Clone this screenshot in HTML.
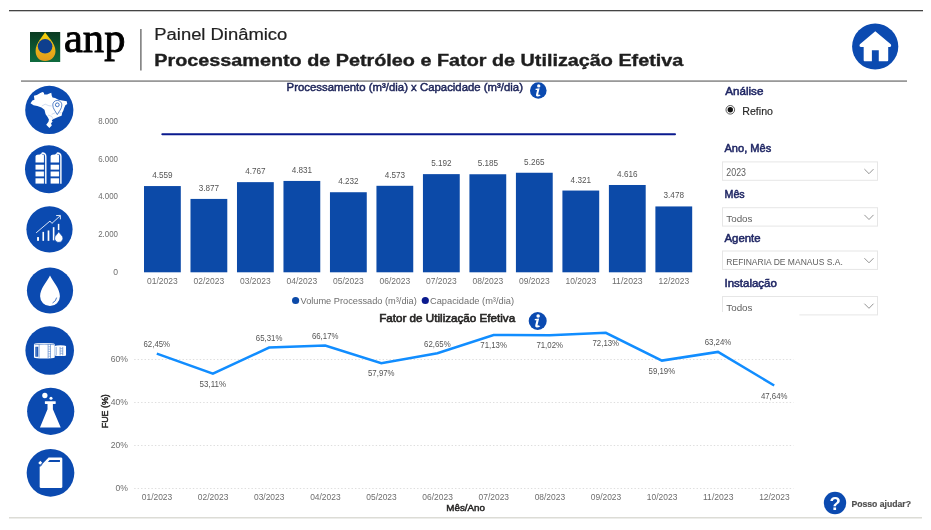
<!DOCTYPE html>
<html><head><meta charset="utf-8">
<style>
html,body{margin:0;padding:0;background:#fff;width:931px;height:530px;overflow:hidden}
svg{display:block;will-change:transform}
text{font-family:"Liberation Sans",sans-serif}
</style></head>
<body>
<svg width="931" height="530" viewBox="0 0 931 530">
<defs>
<linearGradient id="gGreen" x1="0" y1="0" x2="0" y2="1"><stop offset="0" stop-color="#0b3b22"/><stop offset="1" stop-color="#0f6b3e"/></linearGradient>
<linearGradient id="gDrop" x1="0" y1="0" x2="0" y2="1"><stop offset="0" stop-color="#f4d20a"/><stop offset="1" stop-color="#e39a1e"/></linearGradient>
</defs>

<rect x="9" y="10" width="914" height="1.3" fill="#444"/>
<rect x="21" y="80.3" width="886" height="1.6" fill="#8e8e8e"/>
<rect x="9" y="517" width="913" height="1.5" fill="#dcdcd6"/>
<rect x="30" y="32" width="30.2" height="30" fill="url(#gGreen)"/>
<path d="M45.1 32.3 C47 36 55.5 43 55.5 51 C55.5 57 51 61 45.1 61 C39.2 61 35.6 57 35.6 51 C35.6 43 43.2 36 45.1 32.3Z" fill="url(#gDrop)"/>
<circle cx="45.1" cy="46.3" r="7.3" fill="#0e3f8e"/>
<text x="64" y="52.3" font-size="42.5" textLength="61.4" lengthAdjust="spacingAndGlyphs" fill="#000" stroke="#000" stroke-width="0.9" style="font-family:'Liberation Serif',serif">anp</text>
<rect x="140.3" y="29" width="1.2" height="41.5" fill="#555"/>
<text x="154.3" y="39.8" font-size="16" textLength="133" lengthAdjust="spacingAndGlyphs" fill="#222" stroke="#222" stroke-width="0.2">Painel Dinâmico</text>
<text x="154.3" y="65.5" font-size="15.8" font-weight="bold" textLength="529" lengthAdjust="spacingAndGlyphs" fill="#1e1e1e" stroke="#1e1e1e" stroke-width="0.35">Processamento de Petróleo e Fator de Utilização Efetiva</text>

<circle cx="875.2" cy="46.5" r="23.1" fill="#0b4ab0"/>
<g transform="translate(850,22) scale(0.09434)"><path fill="#fff" d="M268 98 L432 236 Q445 262 418 264 L405 264 L405 405 Q405 415 395 415 L305 415 L305 300 L232 300 L232 415 L155 415 Q145 415 145 405 L145 264 L118 264 Q92 262 105 236 Z"/></g>
<g fill="#0b4ab0">
<circle cx="49.3" cy="109.9" r="24.1"/>
<circle cx="49" cy="169.3" r="24"/>
<circle cx="49.5" cy="229.3" r="23.1"/>
<circle cx="50" cy="290.5" r="23.1"/>
<circle cx="49.7" cy="350.5" r="24.3"/>
<circle cx="50.7" cy="411.3" r="23.6"/>
<circle cx="50.5" cy="472.8" r="23.85"/>
</g>
<g transform="translate(29,90) scale(0.07547)"><path fill="#fff" d="M20 175 L45 140 L72 128 L65 75 L105 65 L150 40 L180 25 L197 35 L202 60 L240 60 L262 50 L295 35 L302 75 L312 100 L345 105 L390 130 L440 140 L500 150 L507 185 L482 202 L466 240 L456 270 L440 300 L432 340 L395 356 L355 371 L320 386 L302 400 L312 420 L292 440 L302 470 L270 502 L228 460 L258 420 L264 390 L244 356 L220 320 L205 262 L165 232 L110 212 L60 202 Z"/><path fill="none" stroke="#0b4ab0" stroke-width="4" opacity="0.6" d="M170 212 L215 188 L262 208 L300 212 M300 322 L352 300 L430 302 M252 332 L300 350 L322 386"/><path fill="#fff" stroke="#0b4ab0" stroke-width="9" d="M375 326 C355 285 315 250 315 198 A60 60 0 0 1 435 198 C435 250 395 285 375 326 Z"/><circle cx="375" cy="196" r="25" fill="none" stroke="#0b4ab0" stroke-width="10"/></g>
<g transform="translate(24,145) scale(0.09434)"><path fill="#fff" d="M122 185 L122 118 Q124 106 140 104 L170 100 Q178 84 196 84 L214 86 L214 185 Z"/><rect x="122" y="209" width="92" height="52" fill="#fff"/><rect x="122" y="281" width="92" height="52" fill="#fff"/><rect x="122" y="353" width="92" height="56" fill="#fff"/><path fill="none" stroke="#0b4ab0" stroke-width="7" d="M190 96 Q212 96 216 112 L216 412"/><path fill="none" stroke="#fff" stroke-width="15" d="M188 86 Q231 80 231 122 L231 412"/><path fill="#fff" d="M282 185 L282 118 Q284 106 300 104 L330 100 Q338 84 356 84 L374 86 L374 185 Z"/><rect x="282" y="209" width="92" height="52" fill="#fff"/><rect x="282" y="281" width="92" height="52" fill="#fff"/><rect x="282" y="353" width="92" height="56" fill="#fff"/><path fill="none" stroke="#0b4ab0" stroke-width="7" d="M350 96 Q372 96 376 112 L376 412"/><path fill="none" stroke="#fff" stroke-width="15" d="M348 86 Q391 80 391 122 L391 412"/></g>
<g transform="translate(25,205) scale(0.09434)"><g fill="#fff"><rect x="128" y="340" width="20" height="40"/><rect x="185" y="285" width="17" height="95"/><rect x="240" y="270" width="18" height="110"/><rect x="295" y="235" width="17" height="140"/><rect x="348" y="200" width="16" height="66"/></g><path fill="none" stroke="#fff" stroke-width="9" d="M118 295 L265 170 L285 195 L372 115 M330 112 L375 110 L375 152"/><path fill="#fff" stroke="#0b4ab0" stroke-width="7" d="M358 282 C343 312 314 326 314 352 A44 44 0 0 0 402 352 C402 326 373 312 358 282 Z"/></g>
<g transform="translate(25,266) scale(0.09434)"><path fill="#fff" d="M265 100 C230 170 160 240 160 320 A105 105 0 0 0 370 320 C370 240 300 170 265 100 Z"/><path fill="none" stroke="#0b4ab0" stroke-width="8" d="M335 335 Q330 372 292 392"/></g>
<g transform="translate(25,326) scale(0.09434)"><path fill="#fff" d="M95 190 Q110 180 200 180 Q300 180 315 190 L315 335 Q300 345 200 345 Q110 345 95 335 Z"/><path fill="#fff" d="M315 212 Q330 205 375 205 Q425 205 435 212 L435 312 Q425 318 375 318 Q330 318 315 312 Z"/><rect x="110" y="220" width="30" height="105" fill="#0b4ab0"/><rect x="120" y="225" width="10" height="95" fill="#fff" opacity="0.35"/><path fill="none" stroke="#0b4ab0" stroke-width="5" d="M150 195 L150 335 M245 195 L245 340 M270 195 L270 340 M100 198 Q200 188 312 198 M330 222 L330 310 M372 222 L372 312 M400 222 L400 312"/><path fill="none" stroke="#0b4ab0" stroke-width="4" d="M248 220 L268 220 M248 245 L268 245 M248 270 L268 270 M248 295 L268 295 M248 320 L268 320 M375 240 L398 240 M375 265 L398 265 M375 290 L398 290"/></g>
<g transform="translate(26,387) scale(0.09434)"><g fill="#fff"><circle cx="200" cy="90" r="28"/><circle cx="265" cy="120" r="16"/><rect x="200" y="150" width="115" height="30" rx="4"/><path d="M228 178 L285 178 L285 235 L368 430 L148 430 L228 235 Z"/></g></g>
<g transform="translate(26,448) scale(0.09434)"><path fill="#fff" d="M240 100 L370 100 Q385 100 385 115 L385 410 Q385 425 370 425 L160 425 Q145 425 145 410 L145 200 Z"/><path fill="#0b4ab0" d="M250 128 L360 128 L360 148 L232 148 Z"/><path fill="#fff" d="M130 158 L152 136 L172 156 L150 178 Z"/><path fill="none" stroke="#0b4ab0" stroke-width="6" d="M172 176 L150 198"/></g>
<text x="118" y="124.0" font-size="8.6" text-anchor="end" textLength="19.8" lengthAdjust="spacingAndGlyphs" fill="#6e6e6e">8.000</text>
<text x="118" y="161.7" font-size="8.6" text-anchor="end" textLength="19.8" lengthAdjust="spacingAndGlyphs" fill="#6e6e6e">6.000</text>
<text x="118" y="199.4" font-size="8.6" text-anchor="end" textLength="19.8" lengthAdjust="spacingAndGlyphs" fill="#6e6e6e">4.000</text>
<text x="118" y="237.1" font-size="8.6" text-anchor="end" textLength="19.8" lengthAdjust="spacingAndGlyphs" fill="#6e6e6e">2.000</text>
<text x="118" y="274.8" font-size="8.6" text-anchor="end" fill="#6e6e6e">0</text>
<line x1="162.3" y1="134.25" x2="675" y2="134.25" stroke="#0a1a8e" stroke-width="2" stroke-linecap="round"/>
<rect x="144.00" y="186.06" width="36.8" height="86.24" fill="#0c4aa8"/>
<text x="162.40" y="178.1" font-size="8.6" text-anchor="middle" textLength="20.4" lengthAdjust="spacingAndGlyphs" fill="#555">4.559</text>
<text x="162.40" y="283.7" font-size="9.1" text-anchor="middle" textLength="30.7" lengthAdjust="spacingAndGlyphs" fill="#6e6e6e">01/2023</text>
<rect x="190.49" y="198.92" width="36.8" height="73.38" fill="#0c4aa8"/>
<text x="208.89" y="190.9" font-size="8.6" text-anchor="middle" textLength="20.4" lengthAdjust="spacingAndGlyphs" fill="#555">3.877</text>
<text x="208.89" y="283.7" font-size="9.1" text-anchor="middle" textLength="30.7" lengthAdjust="spacingAndGlyphs" fill="#6e6e6e">02/2023</text>
<rect x="236.98" y="182.14" width="36.8" height="90.16" fill="#0c4aa8"/>
<text x="255.38" y="174.1" font-size="8.6" text-anchor="middle" textLength="20.4" lengthAdjust="spacingAndGlyphs" fill="#555">4.767</text>
<text x="255.38" y="283.7" font-size="9.1" text-anchor="middle" textLength="30.7" lengthAdjust="spacingAndGlyphs" fill="#6e6e6e">03/2023</text>
<rect x="283.47" y="180.94" width="36.8" height="91.36" fill="#0c4aa8"/>
<text x="301.87" y="172.9" font-size="8.6" text-anchor="middle" textLength="20.4" lengthAdjust="spacingAndGlyphs" fill="#555">4.831</text>
<text x="301.87" y="283.7" font-size="9.1" text-anchor="middle" textLength="30.7" lengthAdjust="spacingAndGlyphs" fill="#6e6e6e">04/2023</text>
<rect x="329.96" y="192.23" width="36.8" height="80.07" fill="#0c4aa8"/>
<text x="348.36" y="184.2" font-size="8.6" text-anchor="middle" textLength="20.4" lengthAdjust="spacingAndGlyphs" fill="#555">4.232</text>
<text x="348.36" y="283.7" font-size="9.1" text-anchor="middle" textLength="30.7" lengthAdjust="spacingAndGlyphs" fill="#6e6e6e">05/2023</text>
<rect x="376.45" y="185.80" width="36.8" height="86.50" fill="#0c4aa8"/>
<text x="394.85" y="177.8" font-size="8.6" text-anchor="middle" textLength="20.4" lengthAdjust="spacingAndGlyphs" fill="#555">4.573</text>
<text x="394.85" y="283.7" font-size="9.1" text-anchor="middle" textLength="30.7" lengthAdjust="spacingAndGlyphs" fill="#6e6e6e">06/2023</text>
<rect x="422.94" y="174.13" width="36.8" height="98.17" fill="#0c4aa8"/>
<text x="441.34" y="166.1" font-size="8.6" text-anchor="middle" textLength="20.4" lengthAdjust="spacingAndGlyphs" fill="#555">5.192</text>
<text x="441.34" y="283.7" font-size="9.1" text-anchor="middle" textLength="30.7" lengthAdjust="spacingAndGlyphs" fill="#6e6e6e">07/2023</text>
<rect x="469.43" y="174.26" width="36.8" height="98.04" fill="#0c4aa8"/>
<text x="487.83" y="166.3" font-size="8.6" text-anchor="middle" textLength="20.4" lengthAdjust="spacingAndGlyphs" fill="#555">5.185</text>
<text x="487.83" y="283.7" font-size="9.1" text-anchor="middle" textLength="30.7" lengthAdjust="spacingAndGlyphs" fill="#6e6e6e">08/2023</text>
<rect x="515.92" y="172.75" width="36.8" height="99.55" fill="#0c4aa8"/>
<text x="534.32" y="164.8" font-size="8.6" text-anchor="middle" textLength="20.4" lengthAdjust="spacingAndGlyphs" fill="#555">5.265</text>
<text x="534.32" y="283.7" font-size="9.1" text-anchor="middle" textLength="30.7" lengthAdjust="spacingAndGlyphs" fill="#6e6e6e">09/2023</text>
<rect x="562.41" y="190.55" width="36.8" height="81.75" fill="#0c4aa8"/>
<text x="580.81" y="182.5" font-size="8.6" text-anchor="middle" textLength="20.4" lengthAdjust="spacingAndGlyphs" fill="#555">4.321</text>
<text x="580.81" y="283.7" font-size="9.1" text-anchor="middle" textLength="30.7" lengthAdjust="spacingAndGlyphs" fill="#6e6e6e">10/2023</text>
<rect x="608.90" y="184.99" width="36.8" height="87.31" fill="#0c4aa8"/>
<text x="627.30" y="177.0" font-size="8.6" text-anchor="middle" textLength="20.4" lengthAdjust="spacingAndGlyphs" fill="#555">4.616</text>
<text x="627.30" y="283.7" font-size="9.1" text-anchor="middle" textLength="30.7" lengthAdjust="spacingAndGlyphs" fill="#6e6e6e">11/2023</text>
<rect x="655.39" y="206.44" width="36.8" height="65.86" fill="#0c4aa8"/>
<text x="673.79" y="198.4" font-size="8.6" text-anchor="middle" textLength="20.4" lengthAdjust="spacingAndGlyphs" fill="#555">3.478</text>
<text x="673.79" y="283.7" font-size="9.1" text-anchor="middle" textLength="30.7" lengthAdjust="spacingAndGlyphs" fill="#6e6e6e">12/2023</text>
<circle cx="295.6" cy="300.5" r="3.6" fill="#0c4aa8"/>
<text x="300.5" y="303.7" font-size="8.8" textLength="116.3" lengthAdjust="spacingAndGlyphs" fill="#6e6e6e">Volume Processado (m³/dia)</text>
<circle cx="425.3" cy="300.5" r="3.6" fill="#0a1a8e"/>
<text x="430" y="303.7" font-size="8.8" textLength="84" lengthAdjust="spacingAndGlyphs" fill="#6e6e6e">Capacidade (m³/dia)</text>
<text x="286.6" y="90.9" font-size="10.6" textLength="236.4" lengthAdjust="spacingAndGlyphs" fill="#1c2358" stroke="#1c2358" stroke-width="0.45">Processamento (m³/dia) x Capacidade (m³/dia)</text>
<circle cx="538.3" cy="90.5" r="8.3" fill="#0b4ab0"/>
<g transform="translate(538.3,90.5) scale(0.04150) translate(-320,-253)" fill="#fff"><circle cx="330" cy="142" r="40"/><path d="M255 210 L352 198 L318 338 Q312 362 338 350 L378 368 Q340 400 295 398 Q255 396 265 350 L292 238 L255 238 Z"/></g>
<text x="379.2" y="321.7" font-size="11.6" textLength="136" lengthAdjust="spacingAndGlyphs" fill="#252423" stroke="#252423" stroke-width="0.6">Fator de Utilização Efetiva</text>
<circle cx="537.7" cy="321" r="9" fill="#0b4ab0"/>
<g transform="translate(537.7,321) scale(0.04500) translate(-320,-253)" fill="#fff"><circle cx="330" cy="142" r="40"/><path d="M255 210 L352 198 L318 338 Q312 362 338 350 L378 368 Q340 400 295 398 Q255 396 265 350 L292 238 L255 238 Z"/></g>
<line x1="134.2" y1="359.5" x2="793.5" y2="359.5" stroke="#dedede" stroke-width="1" stroke-dasharray="1.4 2.05"/>
<text x="127.9" y="361.7" font-size="8.6" text-anchor="end" fill="#6e6e6e">60%</text>
<line x1="134.2" y1="402.5" x2="793.5" y2="402.5" stroke="#dedede" stroke-width="1" stroke-dasharray="1.4 2.05"/>
<text x="127.9" y="404.7" font-size="8.6" text-anchor="end" fill="#6e6e6e">40%</text>
<line x1="134.2" y1="445.5" x2="793.5" y2="445.5" stroke="#dedede" stroke-width="1" stroke-dasharray="1.4 2.05"/>
<text x="127.9" y="447.7" font-size="8.6" text-anchor="end" fill="#6e6e6e">20%</text>
<line x1="134.2" y1="488.5" x2="793.5" y2="488.5" stroke="#dedede" stroke-width="1" stroke-dasharray="1.4 2.05"/>
<text x="127.9" y="490.7" font-size="8.6" text-anchor="end" fill="#6e6e6e">0%</text>
<polyline points="156.8,353.6 212.9,373.7 269.1,347.5 325.2,345.6 381.3,363.3 437.4,353.2 493.6,335.0 549.7,335.2 605.8,332.8 661.9,360.6 718.0,351.9 774.2,385.5" fill="none" stroke="#118dff" stroke-width="2.5" stroke-linejoin="miter"/>
<text x="156.8" y="347.0" font-size="8.6" text-anchor="middle" textLength="26.6" lengthAdjust="spacingAndGlyphs" fill="#555">62,45%</text>
<text x="157.0" y="499.9" font-size="9.1" text-anchor="middle" textLength="30.5" lengthAdjust="spacingAndGlyphs" fill="#6e6e6e">01/2023</text>
<text x="212.9" y="386.7" font-size="8.6" text-anchor="middle" textLength="26.6" lengthAdjust="spacingAndGlyphs" fill="#555">53,11%</text>
<text x="213.1" y="499.9" font-size="9.1" text-anchor="middle" textLength="30.5" lengthAdjust="spacingAndGlyphs" fill="#6e6e6e">02/2023</text>
<text x="269.1" y="340.9" font-size="8.6" text-anchor="middle" textLength="26.6" lengthAdjust="spacingAndGlyphs" fill="#555">65,31%</text>
<text x="269.2" y="499.9" font-size="9.1" text-anchor="middle" textLength="30.5" lengthAdjust="spacingAndGlyphs" fill="#6e6e6e">03/2023</text>
<text x="325.2" y="339.0" font-size="8.6" text-anchor="middle" textLength="26.6" lengthAdjust="spacingAndGlyphs" fill="#555">66,17%</text>
<text x="325.4" y="499.9" font-size="9.1" text-anchor="middle" textLength="30.5" lengthAdjust="spacingAndGlyphs" fill="#6e6e6e">04/2023</text>
<text x="381.3" y="376.3" font-size="8.6" text-anchor="middle" textLength="26.6" lengthAdjust="spacingAndGlyphs" fill="#555">57,97%</text>
<text x="381.5" y="499.9" font-size="9.1" text-anchor="middle" textLength="30.5" lengthAdjust="spacingAndGlyphs" fill="#6e6e6e">05/2023</text>
<text x="437.4" y="346.6" font-size="8.6" text-anchor="middle" textLength="26.6" lengthAdjust="spacingAndGlyphs" fill="#555">62,65%</text>
<text x="437.6" y="499.9" font-size="9.1" text-anchor="middle" textLength="30.5" lengthAdjust="spacingAndGlyphs" fill="#6e6e6e">06/2023</text>
<text x="493.6" y="348.0" font-size="8.6" text-anchor="middle" textLength="26.6" lengthAdjust="spacingAndGlyphs" fill="#555">71,13%</text>
<text x="493.8" y="499.9" font-size="9.1" text-anchor="middle" textLength="30.5" lengthAdjust="spacingAndGlyphs" fill="#6e6e6e">07/2023</text>
<text x="549.7" y="348.2" font-size="8.6" text-anchor="middle" textLength="26.6" lengthAdjust="spacingAndGlyphs" fill="#555">71,02%</text>
<text x="549.9" y="499.9" font-size="9.1" text-anchor="middle" textLength="30.5" lengthAdjust="spacingAndGlyphs" fill="#6e6e6e">08/2023</text>
<text x="605.8" y="345.8" font-size="8.6" text-anchor="middle" textLength="26.6" lengthAdjust="spacingAndGlyphs" fill="#555">72,13%</text>
<text x="606.0" y="499.9" font-size="9.1" text-anchor="middle" textLength="30.5" lengthAdjust="spacingAndGlyphs" fill="#6e6e6e">09/2023</text>
<text x="661.9" y="373.6" font-size="8.6" text-anchor="middle" textLength="26.6" lengthAdjust="spacingAndGlyphs" fill="#555">59,19%</text>
<text x="662.1" y="499.9" font-size="9.1" text-anchor="middle" textLength="30.5" lengthAdjust="spacingAndGlyphs" fill="#6e6e6e">10/2023</text>
<text x="718.0" y="345.3" font-size="8.6" text-anchor="middle" textLength="26.6" lengthAdjust="spacingAndGlyphs" fill="#555">63,24%</text>
<text x="718.2" y="499.9" font-size="9.1" text-anchor="middle" textLength="30.5" lengthAdjust="spacingAndGlyphs" fill="#6e6e6e">11/2023</text>
<text x="774.2" y="398.5" font-size="8.6" text-anchor="middle" textLength="26.6" lengthAdjust="spacingAndGlyphs" fill="#555">47,64%</text>
<text x="774.4" y="499.9" font-size="9.1" text-anchor="middle" textLength="30.5" lengthAdjust="spacingAndGlyphs" fill="#6e6e6e">12/2023</text>
<text transform="translate(107.6,411.2) rotate(-90)" x="0" y="0" font-size="9.3" text-anchor="middle" textLength="34" lengthAdjust="spacingAndGlyphs" fill="#252423" stroke="#252423" stroke-width="0.45">FUE (%)</text>
<text x="446.3" y="510.6" font-size="9.2" textLength="38.7" lengthAdjust="spacingAndGlyphs" fill="#252423" stroke="#252423" stroke-width="0.45">Mês/Ano</text>
<text x="725.3" y="94.8" font-size="10.9" textLength="38.1" lengthAdjust="spacingAndGlyphs" fill="#1f2664" stroke="#1f2664" stroke-width="0.5">Análise</text>
<circle cx="730.3" cy="109.8" r="4.3" fill="#fff" stroke="#444" stroke-width="0.9"/>
<circle cx="730.3" cy="109.8" r="2.7" fill="#111"/>
<text x="742.3" y="114.8" font-size="11" textLength="30.7" lengthAdjust="spacingAndGlyphs" fill="#262626" stroke="#262626" stroke-width="0.15">Refino</text>
<text x="724.5" y="151.7" font-size="10.7" textLength="46.7" lengthAdjust="spacingAndGlyphs" fill="#1f2664" stroke="#1f2664" stroke-width="0.5">Ano, Mês</text>
<rect x="722.5" y="161.9" width="155" height="18.4" fill="#fff" stroke="#e6e6e6" stroke-width="1"/>
<text x="726.3" y="175.9" font-size="10.4" textLength="19.7" lengthAdjust="spacingAndGlyphs" fill="#606060">2023</text>
<path d="M864.4 169.1 L869 173.7 L873.5 169.1" fill="none" stroke="#888" stroke-width="0.9"/>
<text x="724.5" y="197.7" font-size="10.7" textLength="20.2" lengthAdjust="spacingAndGlyphs" fill="#1f2664" stroke="#1f2664" stroke-width="0.5">Mês</text>
<rect x="722.5" y="207.7" width="155" height="18.4" fill="#fff" stroke="#e6e6e6" stroke-width="1"/>
<text x="726.3" y="221.7" font-size="9.8" fill="#606060">Todos</text>
<path d="M864.4 214.9 L869 219.5 L873.5 214.9" fill="none" stroke="#888" stroke-width="0.9"/>
<text x="724.5" y="241.6" font-size="10.7" textLength="36.1" lengthAdjust="spacingAndGlyphs" fill="#1f2664" stroke="#1f2664" stroke-width="0.5">Agente</text>
<rect x="722.5" y="251.0" width="155" height="18.4" fill="#fff" stroke="#e6e6e6" stroke-width="1"/>
<text x="726.3" y="265.0" font-size="9.8" textLength="116.5" lengthAdjust="spacingAndGlyphs" fill="#606060">REFINARIA DE MANAUS S.A.</text>
<path d="M864.4 258.2 L869 262.8 L873.5 258.2" fill="none" stroke="#888" stroke-width="0.9"/>
<text x="724.5" y="286.7" font-size="10.7" textLength="52.4" lengthAdjust="spacingAndGlyphs" fill="#1f2664" stroke="#1f2664" stroke-width="0.5">Instalação</text>
<rect x="722.5" y="296.5" width="155" height="18.4" fill="#fff" stroke="#e6e6e6" stroke-width="1"/>
<text x="726.3" y="310.5" font-size="9.8" fill="#606060">Todos</text>
<path d="M864.4 303.7 L869 308.3 L873.5 303.7" fill="none" stroke="#888" stroke-width="0.9"/>
<rect x="721" y="312" width="78.4" height="5" fill="#fff"/>
<circle cx="835" cy="503" r="11.2" fill="#0b4ab0"/>
<text x="835.2" y="509.8" font-size="18.5" font-weight="bold" text-anchor="middle" fill="#fff">?</text>
<text x="851.4" y="507.3" font-size="9.3" font-weight="bold" textLength="59.6" lengthAdjust="spacingAndGlyphs" fill="#505050" stroke="#505050" stroke-width="0.2">Posso ajudar?</text>
</svg>
</body></html>
